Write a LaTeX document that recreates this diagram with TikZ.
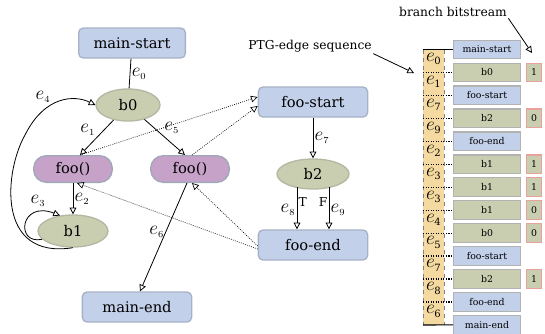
\documentclass[tikz,border=0pt]{standalone}
\usepackage{fontspec}
\setmainfont{DejaVu Serif}
\usepackage{tikz}
\usetikzlibrary{shapes.geometric, arrows.meta, positioning, calc}
\definecolor{ptgblue}{HTML}{C3D0EA}
\definecolor{ptggreen}{HTML}{C9CEB0}
\definecolor{ptgpurple}{HTML}{C6A1C8}
\definecolor{ptgline}{HTML}{A7B2C6}
\definecolor{grnline}{HTML}{B3B8A3}
\definecolor{stripfill}{HTML}{F4DAA0}
\definecolor{bitline}{HTML}{E9A29B}
\newcommand{\edgelab}[1]{$e_{\scriptscriptstyle #1}$}
\newcommand{\seqlab}[1]{$e$\kern-0.3pt\raisebox{-2.6pt}{\fontsize{7.5}{8}\selectfont #1}}
\tikzset{
  ptgbox/.style={rectangle, rounded corners=3.5pt, draw=ptgline, line width=1pt, fill=ptgblue, minimum width=82pt, minimum height=22.5pt, inner sep=0pt, font=\fontsize{11}{13}\selectfont},
  branch/.style={ellipse, draw=grnline, line width=1pt, fill=ptggreen, minimum width=48pt, minimum height=24pt, inner sep=0pt, font=\fontsize{11}{13}\selectfont},
  call/.style={rectangle, rounded corners=9.5pt, draw=ptgline!80!gray, line width=1pt, fill=ptgpurple, minimum width=59pt, minimum height=20pt, inner sep=0pt, font=\fontsize{11}{13}\selectfont},
  seqbox/.style={rectangle, draw=gray!60, line width=0.9pt, minimum width=50pt, minimum height=14pt, inner sep=0pt, font=\fontsize{7}{8}\selectfont},
  bitbox/.style={rectangle, draw=bitline, line width=0.9pt, fill=ptggreen, minimum width=11.5pt, minimum height=14pt, inner sep=0pt, font=\fontsize{7}{8}\selectfont},
  elab/.style={font=\fontsize{15}{16}\selectfont, inner sep=1pt},
  edge/.style={-{Triangle[open, length=5pt, width=5pt]}, line width=0.6pt},
  ctx/.style={edge, densely dotted, line width=0.5pt},
  note/.style={font=\fontsize{9.2}{11}\selectfont, inner sep=1pt},
}
\begin{document}
\begin{tikzpicture}[x=0.75pt, y=-0.75pt]
\useasboundingbox (0,0) rectangle (545,333);
% control flow of main and foo
\node[ptgbox, minimum width=80pt] (mstart) at (132,43) {main-start};
\node[branch] (b0) at (128,105) {b0};
\node[call] (fooL) at (73,169) {foo()};
\node[call] (fooR) at (190,169) {foo()};
\node[branch, minimum width=52.5pt] (b1) at (73,231) {b1};
\node[ptgbox] (mend) at (137,307) {main-end};
\node[ptgbox] (fstart) at (313,102) {foo-start};
\node[branch, minimum width=54pt, minimum height=22.5pt] (b2) at (313,174) {b2};
\node[ptgbox] (fend) at (313,245) {foo-end};

\draw[line width=0.6pt] (mstart) -- node[elab, right] {\edgelab{0}} (b0);
\draw[edge] (b0) -- node[elab, above left] {\edgelab{1}} ($(fooL.north)+(7,0)$);
\draw[edge] (b0) -- node[elab, above right, pos=0.45] {\edgelab{5}} ($(fooR.north)+(-5,0)$);
\draw[edge] (fooL) -- node[elab, right] {\edgelab{2}} (b1);
\draw[edge] (b1.195) .. controls (15,245) and (20,200) .. (b1.130);
\node[elab] (e3) at (38,201) {\edgelab{3}};
\draw[edge] (b1.south) .. controls (-5,260) and (5,170) .. (25,135)
  .. controls (45,95) and (75,95) .. (b0.west);
\node[elab] (e4) at (43,97) {\edgelab{4}};
\draw[edge] ($(fooR.south)+(-3,0)$) -- node[elab, left, pos=0.45] {\edgelab{6}} ($(mend.north)+(3,0)$);
\draw[edge] (fstart) -- node[elab, right] {\edgelab{7}} (b2);
\draw[edge] ($(b2.center)+(-16,13)$) -- node[elab, left, pos=0.55] {\edgelab{8}}
  node[note, right, pos=0.35] {T} ($(fend.north)+(-16,0)$);
\draw[edge] ($(b2.center)+(16,13)$) -- node[elab, right, pos=0.55] {\edgelab{9}}
  node[note, left, pos=0.35] {F} ($(fend.north)+(16,0)$);

% calls and returns
\draw[ctx] ($(fooL.north)+(7,0)$) -- ($(fstart.west)+(0,-5)$);
\draw[ctx] ($(fooR.north)+(2,0)$) -- ($(fstart.west)+(0,4)$);
\draw[ctx] ($(fend.west)+(0,4)$) -- ($(fooL.south)+(4,0)$);
\draw[ctx] ($(fend.west)+(0,1)$) -- ($(fooR.south)+(2,0)$);

% edge sequence and bitstream
\fill[stripfill] (423,49.5) rectangle (444,325);
\draw[dashed, gray] (423,49.5) -- (423,325);
\draw[dashed, gray] (444,49.5) -- (444,325);
\foreach \lab/\kind [count=\i from 0] in {main-start/ptgblue, b0/ptggreen, foo-start/ptgblue, b2/ptggreen, foo-end/ptgblue, b1/ptggreen, b1/ptggreen, b1/ptggreen, b0/ptggreen, foo-start/ptgblue, b2/ptggreen, foo-end/ptgblue, main-end/ptgblue}
  \node[seqbox, fill=\kind] (s\i) at (487,{49.5+22.95*\i}) {\lab};
\draw[line width=0.8pt] (423,49.5) -- (s0.west);
\draw[line width=0.8pt] (423,325) -- (s12.west);
\foreach \i in {1,...,11}
  \draw[densely dotted, line width=0.9pt] (423,{49.5+22.95*\i}) -- (s\i.west);
\foreach \k [count=\i from 0] in {0,1,7,9,2,3,3,4,5,7,8,6}
  \node[elab] (q\i) at (433.5,{59+22.95*\i}) {\seqlab{\k}};
\foreach \r/\bit in {1/1, 3/0, 5/1, 6/1, 7/0, 8/0, 10/1}
  \node[bitbox] (bit\r) at (534,{49.5+22.95*\r}) {\bit};

\node[note] (ptgseq) at (310,46) {PTG-edge sequence};
\coordinate (ptgtip) at (414,73);
\draw[edge] (ptgseq.south east) -- (ptgtip);
\node[note] (bbits) at (453,12) {branch bitstream};
\coordinate (bbtip) at (532,53);
\draw[edge] (bbits.south east) -- (bbtip);
\end{tikzpicture}
\end{document}
